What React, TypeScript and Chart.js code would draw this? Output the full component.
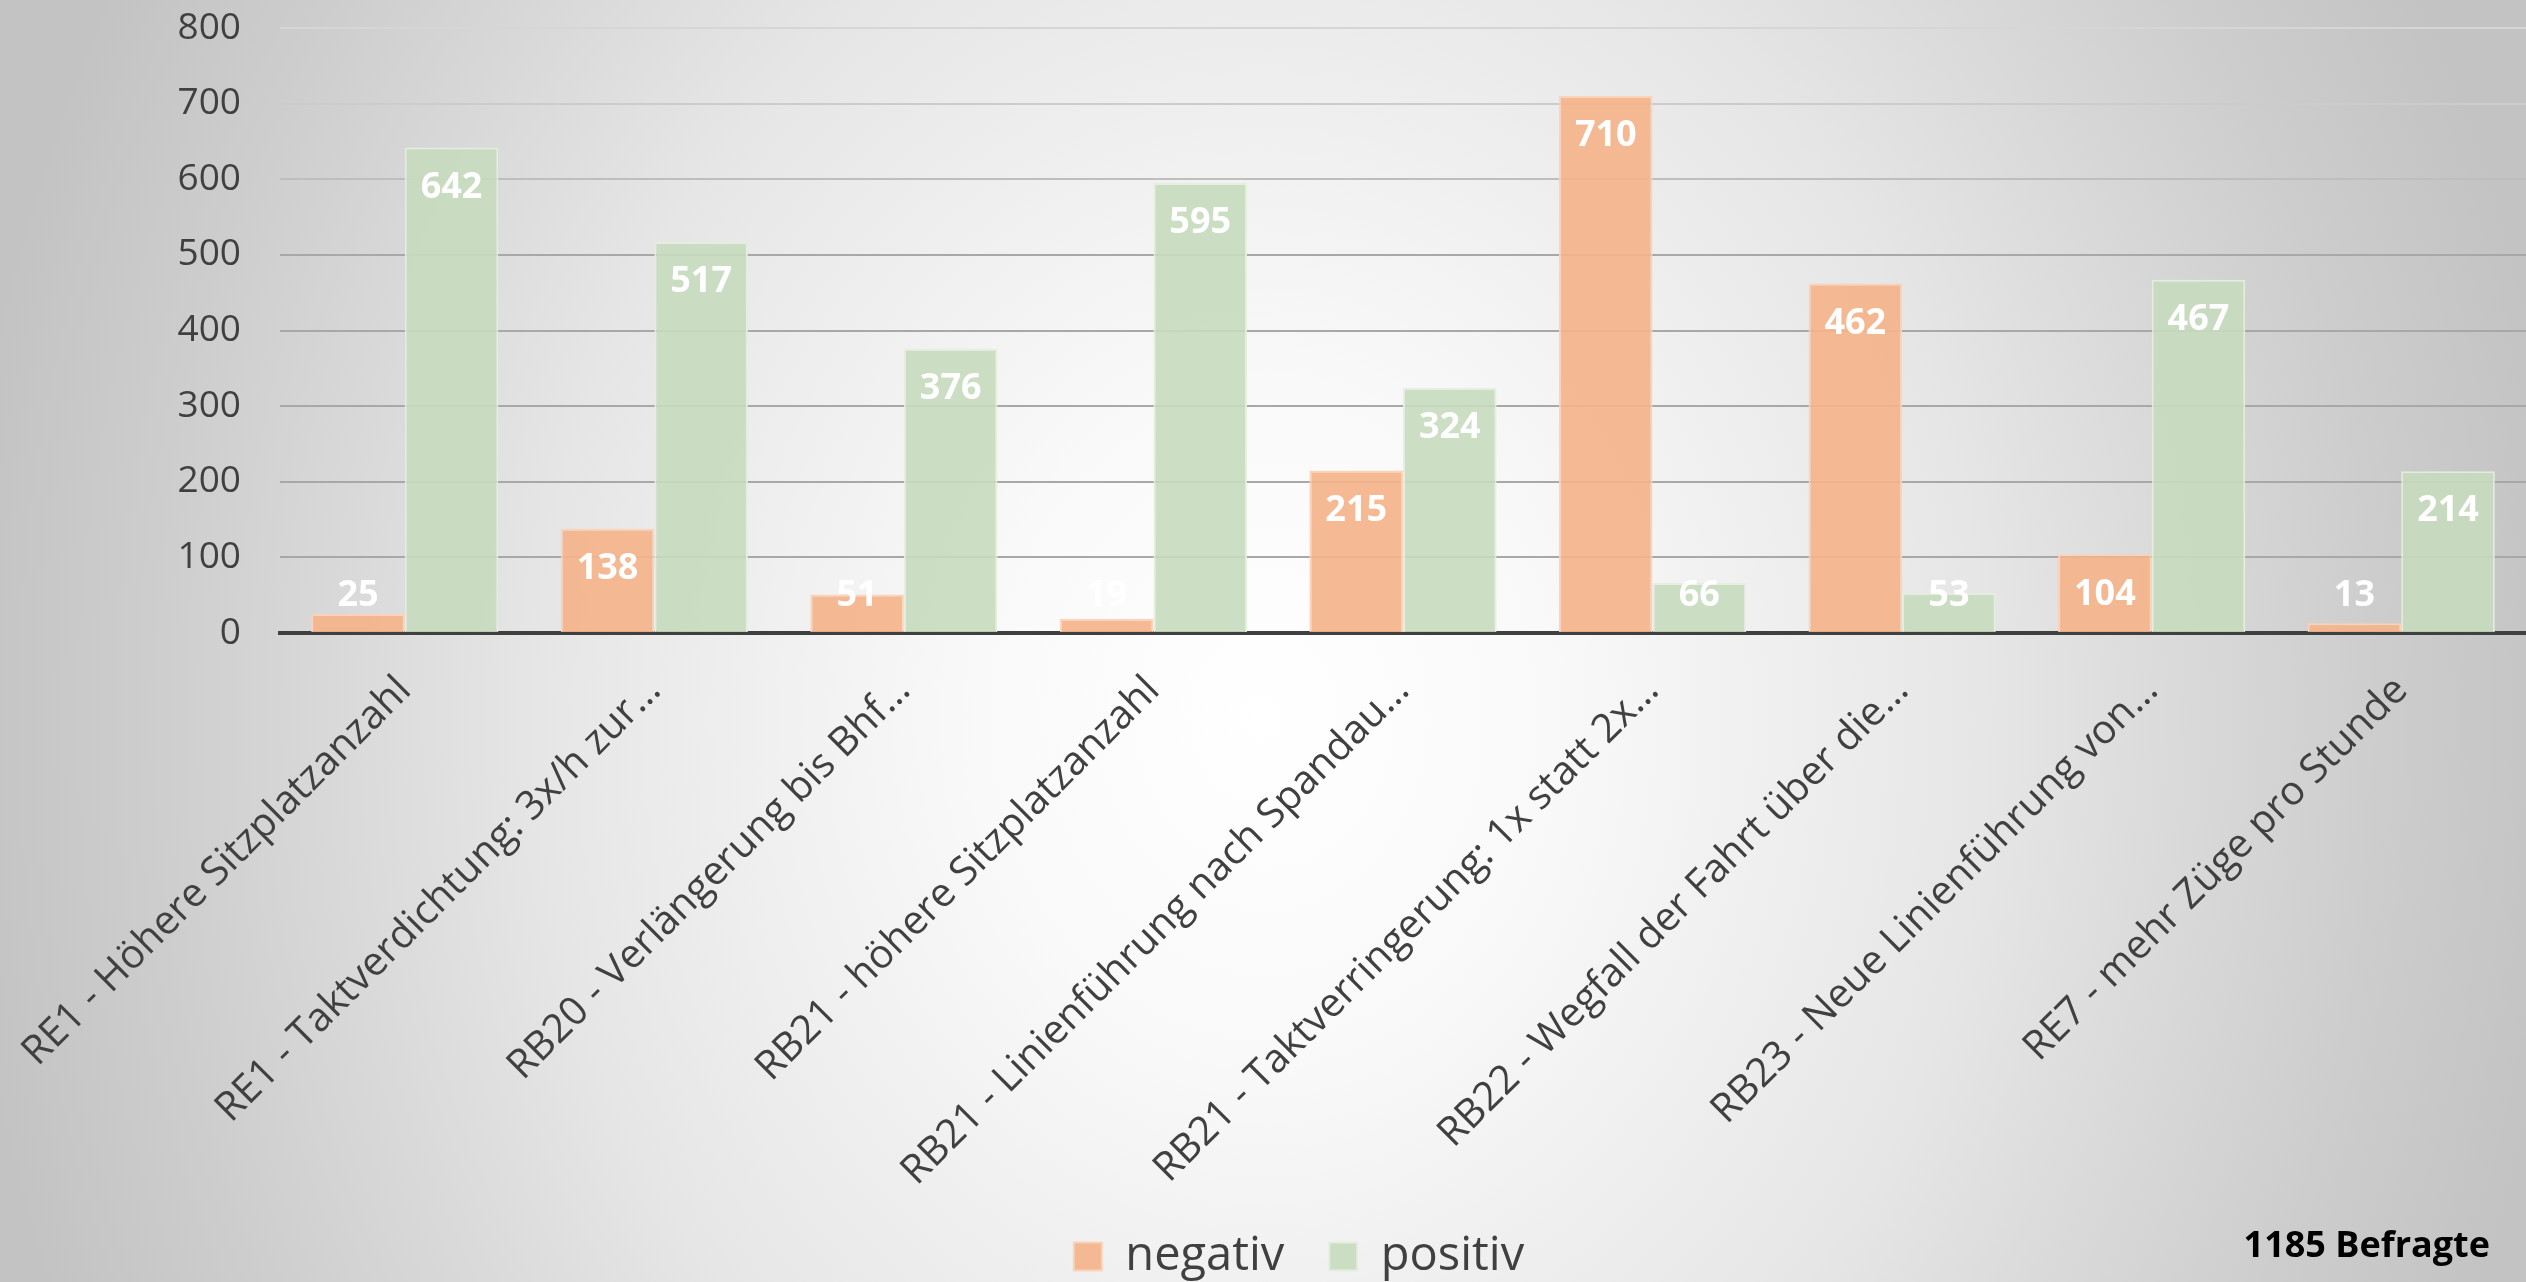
import { useEffect, useRef } from "react";
import { Chart, registerables } from "chart.js";

Chart.register(...registerables);

const categories = [
  "RE1 - Höhere Sitzplatzanzahl",
  "RE1 - Taktverdichtung: 3x/h zur…",
  "RB20 - Verlängerung bis Bhf…",
  "RB21 - höhere Sitzplatzanzahl",
  "RB21 - Linienführung nach Spandau…",
  "RB21 - Taktverringerung: 1x statt 2x…",
  "RB22 - Wegfall der Fahrt über die…",
  "RB23 - Neue Linienführung von…",
  "RE7 - mehr Züge pro Stunde",
];
const negativValues = [25, 138, 51, 19, 215, 710, 462, 104, 13];
const positivValues = [642, 517, 376, 595, 324, 66, 53, 467, 214];
const seriesNames = ["negativ", "positiv"];
const yMin = 0;
const yMax = 800;
const yStep = 100;
const noteText = "1185 Befragte";

const FONT = "'Open Sans', sans-serif";

const valueLabels = {
  id: "valueLabels",
  afterDatasetsDraw(chart: any) {
    const ctx = chart.ctx;
    ctx.save();
    ctx.font = `bold 36px ${FONT}`;
    ctx.fillStyle = "#ffffff";
    ctx.textAlign = "center";
    ctx.textBaseline = "middle";
    chart.data.datasets.forEach((ds: any, i: number) => {
      const meta = chart.getDatasetMeta(i);
      meta.data.forEach((bar: any, j: number) => {
        const y = Math.min(bar.y + 40, bar.base - 36);
        ctx.fillText(String(ds.data[j]), bar.x, y);
      });
    });
    ctx.restore();
  },
};

const notePlugin = {
  id: "notePlugin",
  afterDraw(chart: any) {
    const ctx = chart.ctx;
    ctx.save();
    ctx.font = `bold 36px ${FONT}`;
    ctx.fillStyle = "#000000";
    ctx.textAlign = "right";
    ctx.textBaseline = "alphabetic";
    ctx.fillText(noteText, chart.width - 36, 1257);
    ctx.restore();
  },
};

const legendShift = {
  id: "legendShift",
  afterLayout(chart: any) {
    if (chart.legend) {
      chart.legend.left += 36;
      chart.legend.right += 36;
    }
  },
};

export default function App() {
  const ref = useRef<HTMLCanvasElement>(null);
  useEffect(() => {
    document.body.style.margin = "0";
    const chart = new Chart(ref.current!, {
      type: "bar",
      data: {
        labels: categories,
        datasets: [
          {
            label: seriesNames[0],
            data: negativValues,
            backgroundColor: "rgba(244,180,138,0.92)",
            borderColor: "rgba(250,210,185,0.95)",
            borderWidth: 2,
          },
          {
            label: seriesNames[1],
            data: positivValues,
            backgroundColor: "rgba(198,218,190,0.9)",
            borderColor: "rgba(228,238,222,0.95)",
            borderWidth: 2,
          },
        ],
      },
      options: {
        animation: false,
        responsive: true,
        maintainAspectRatio: false,
        layout: { padding: { top: 28, left: 0, right: 0, bottom: 0 } },
        datasets: {
          bar: { categoryPercentage: 0.75, barPercentage: 1.0 },
        },
        plugins: {
          tooltip: { enabled: false },
          legend: {
            position: "bottom",
            labels: {
              color: "#404040",
              font: { family: FONT, size: 47 },
              boxWidth: 28,
              boxHeight: 28,
              padding: 45,
            },
          },
        },
        scales: {
          x: {
            grid: { display: false, drawTicks: false },
            border: { display: true, color: "#404040", width: 4 },
            ticks: {
              color: "#404040",
              font: { family: FONT, size: 40 },
              maxRotation: 45,
              minRotation: 45,
              autoSkip: false,
              padding: 34,
            },
            afterFit(scale: any) {
              scale.height = 555;
              scale.paddingLeft = 0;
              scale.paddingRight = 0;
            },
          },
          y: {
            min: yMin,
            max: yMax,
            grid: {
              drawTicks: false,
              lineWidth: 2,
              color: (c: any) => {
                const v = c.tick ? c.tick.value : 0;
                if (v >= 800) return "#d6d6d6";
                if (v >= 700) return "#cccccc";
                if (v >= 600) return "#bebebe";
                return "#a8a8a8";
              },
            },
            border: { display: false },
            ticks: {
              stepSize: yStep,
              color: "#404040",
              font: { family: FONT, size: 37 },
              padding: 39,
            },
            afterFit(scale: any) {
              scale.width = 280;
              scale.paddingTop = 0;
              scale.paddingBottom = 0;
            },
          },
        },
      },
      plugins: [valueLabels, notePlugin, legendShift],
    });
    return () => chart.destroy();
  }, []);

  return (
    <div
      style={{
        position: "fixed",
        left: 0,
        top: 0,
        width: 2526,
        height: 1282,
        overflow: "hidden",
        background:
          "radial-gradient(ellipse 52% 120% at 50% 56%, #ffffff 0%, #f9f9f9 22%, #e6e6e6 55%, #cdcdcd 85%, #c3c3c3 100%)",
      }}
    >
      <div style={{ position: "relative", width: 2526, height: 1290 }}>
        <canvas ref={ref} />
      </div>
    </div>
  );
}
